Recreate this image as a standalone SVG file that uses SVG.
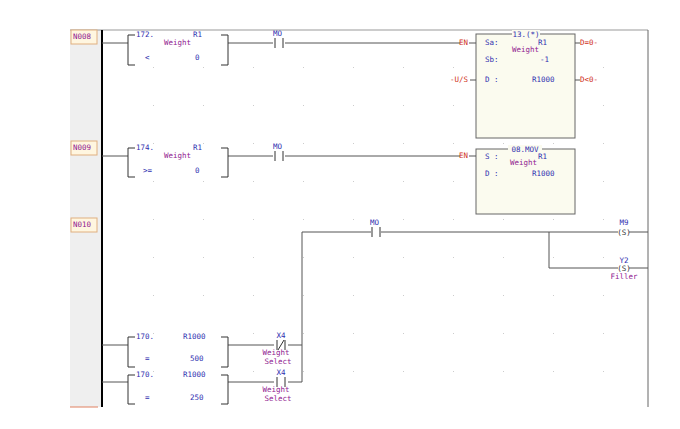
<svg xmlns="http://www.w3.org/2000/svg" width="680" height="429" viewBox="0 0 680 429">
<defs>
<style>
text{font-family:"DejaVu Sans Mono","Liberation Mono",monospace;font-size:7.5px}
.b{fill:#3030b0}.p{fill:#902090}.r{fill:#d03020}
.w{stroke:#555;stroke-width:1;fill:none}
.br{stroke:#333;stroke-width:1;fill:none}
.box{fill:#fbfbef;stroke:#666;stroke-width:1}
.lab{fill:#fff6e0;stroke:#e0b080;stroke-width:1}
.m{text-anchor:middle}
</style>
<pattern id="dots" x="3" y="29" width="50" height="38" patternUnits="userSpaceOnUse"><rect x="0" y="0" width="1" height="1" fill="#ccc"/></pattern>
</defs>
<rect width="680" height="429" fill="#fff"/>
<rect x="104" y="30" width="544" height="377" fill="url(#dots)"/>
<rect x="70" y="30" width="32" height="377" fill="#efefef"/>
<line x1="70" y1="30" x2="648" y2="30" stroke="#999"/>
<line x1="648" y1="30" x2="648" y2="407" stroke="#666"/>
<line x1="102" y1="30" x2="102" y2="407" stroke="#000" stroke-width="2"/>
<line x1="70" y1="407" x2="98" y2="407" stroke="#e08060"/>
<g id="labels">
<rect class="lab" x="71" y="30" width="26" height="14"/><text class="p" x="73" y="39">N008</text>
<rect class="lab" x="71" y="141" width="26" height="14"/><text class="p" x="73" y="150">N009</text>
<rect class="lab" x="71" y="218" width="26" height="14"/><text class="p" x="73" y="227">N010</text>
</g>
<g id="connectors" class="w">
<path d="M102 43H128M228 43H273M285 43H460"/>
<path d="M102 156H128M228 156H273M285 156H460"/>
<path d="M302 232V382M302 232H371M381 232H618M629 232H648M549 232V268H618M629 268H648"/>
<path d="M102 345H128M228 345H274M288 345H302"/>
<path d="M102 382H128M228 382H274M288 382H302"/>
</g>
<g id="cmp1">
<path class="br" d="M135 35H128V65H135M221 35H228V65H221"/>
<text class="b" x="136" y="37">172.</text><text class="b" x="193" y="37">R1</text>
<text class="p" x="164" y="45">Weight</text>
<text class="b" x="145" y="60">&lt;</text><text class="b" x="195" y="60">0</text>
</g>
<g id="c1"><path class="br" d="M275 38V48M283 38V48"/><text class="b" x="273" y="36">MO</text></g>
<g id="cmp2">
<path class="br" d="M135 148H128V177H135M221 148H228V177H221"/>
<text class="b" x="136" y="150">174.</text><text class="b" x="193" y="150">R1</text>
<text class="p" x="164" y="158">Weight</text>
<text class="b" x="143" y="173">&gt;=</text><text class="b" x="195" y="173">0</text>
</g>
<g id="c2"><path class="br" d="M275 151V161M283 151V161"/><text class="b" x="273" y="149">MO</text></g>
<g id="mul">
<rect class="box" x="476" y="34" width="99" height="104"/>
<rect x="512" y="30" width="28" height="8" fill="#fbfbef"/>
<text class="b m" x="526" y="37">13.(*)</text>
<text class="r" x="459" y="45">EN</text><line x1="469" y1="43" x2="476" y2="43" stroke="#555"/>
<text class="r" x="450" y="82">-U/S</text><line x1="470" y1="80" x2="476" y2="80" stroke="#555"/>
<text class="b" x="485" y="45">Sa:</text><text class="b" x="538" y="45">R1</text>
<text class="p" x="512" y="52">Weight</text>
<text class="b" x="485" y="62">Sb:</text><text class="b" x="540" y="62">-1</text>
<text class="b" x="485" y="82">D :</text><text class="b" x="532" y="82">R1000</text>
<line x1="575" y1="43" x2="580" y2="43" stroke="#555"/><text class="r" x="580" y="45">D=0-</text>
<line x1="575" y1="80" x2="580" y2="80" stroke="#555"/><text class="r" x="580" y="82">D&lt;0-</text>
</g>
<g id="mov">
<rect class="box" x="476" y="149" width="99" height="65"/>
<rect x="508" y="145" width="34" height="8" fill="#fbfbef"/>
<text class="b m" x="525" y="152">08.MOV</text>
<text class="r" x="459" y="158">EN</text><line x1="469" y1="156" x2="476" y2="156" stroke="#555"/>
<text class="b" x="485" y="159">S :</text><text class="b" x="538" y="159">R1</text>
<text class="p" x="510" y="165">Weight</text>
<text class="b" x="485" y="176">D :</text><text class="b" x="532" y="176">R1000</text>
</g>
<g id="c3"><path class="br" d="M372 227V237M380 227V237"/><text class="b" x="370" y="225">MO</text></g>
<g id="m9"><text class="b m" x="624" y="225">M9</text><text fill="#333" class="m" x="624" y="235">(S)</text></g>
<g id="y2"><text class="b m" x="624" y="263">Y2</text><text fill="#333" class="m" x="624" y="271">(S)</text><text class="p m" x="624" y="279">Filler</text></g>
<g id="cmp3">
<path class="br" d="M135 337H128V367H135M221 337H228V367H221"/>
<text class="b" x="136" y="339">170.</text><text class="b" x="183" y="339">R1000</text>
<text class="b" x="145" y="361">=</text><text class="b" x="190" y="361">500</text>
</g>
<g id="x4a"><path class="br" d="M277 340V350M285 340V350M278 350L284 340"/><text class="b m" x="281" y="338">X4</text>
<text class="p m" x="276" y="355">Weight</text><text class="p m" x="278" y="364">Select</text></g>
<g id="cmp4">
<path class="br" d="M135 375H128V404H135M221 375H228V404H221"/>
<text class="b" x="136" y="377">170.</text><text class="b" x="183" y="377">R1000</text>
<text class="b" x="145" y="400">=</text><text class="b" x="190" y="400">250</text>
</g>
<g id="x4b"><path class="br" d="M277 377V387M285 377V387"/><text class="b m" x="281" y="375">X4</text>
<text class="p m" x="276" y="392">Weight</text><text class="p m" x="278" y="401">Select</text></g>
</svg>
